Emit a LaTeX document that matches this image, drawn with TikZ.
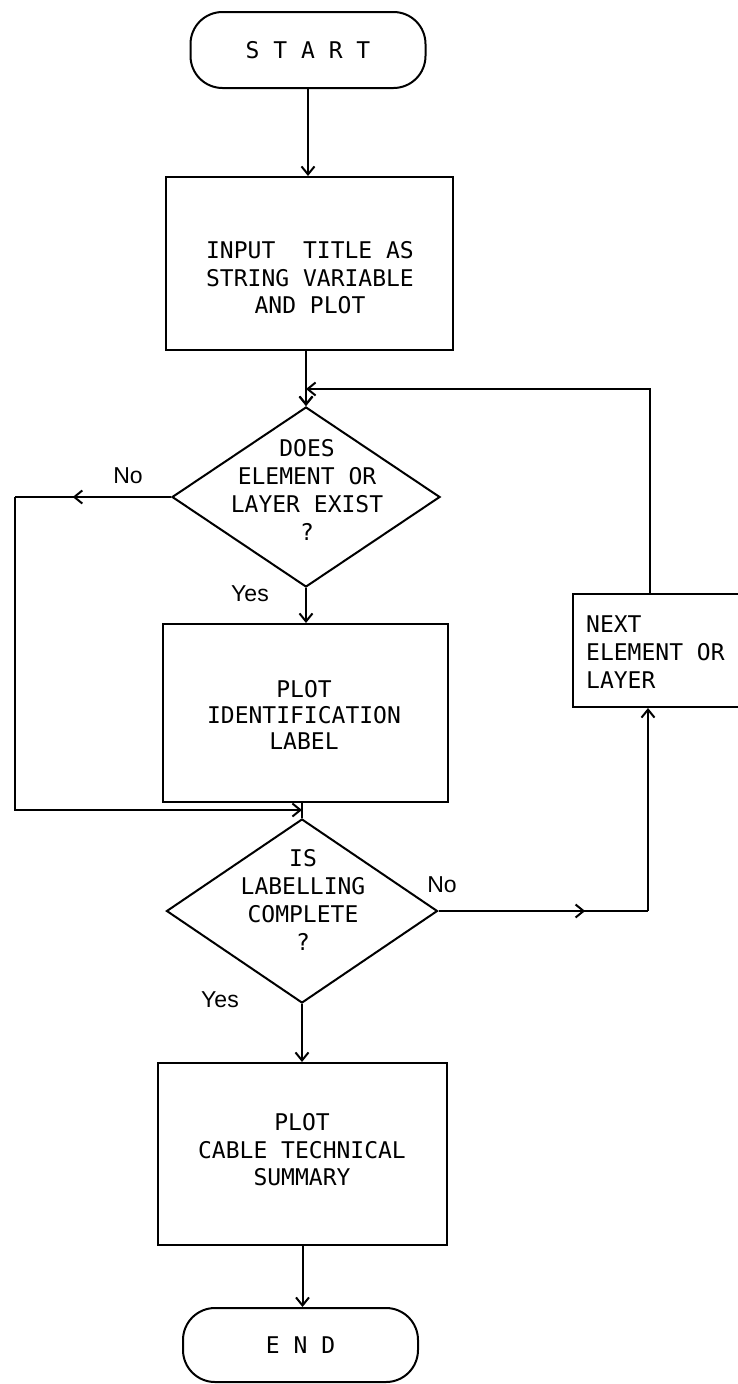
\documentclass[tikz,border=0pt]{standalone}
\usepackage{fontspec}
\setmainfont{Liberation Sans}
\newfontfamily\plotfont{DejaVu Sans Mono}
\usetikzlibrary{shapes.geometric,arrows.meta,decorations.markings}

\begin{document}
\begin{tikzpicture}[x=1pt,y=-1pt,
  every node/.style={inner sep=0pt},
  line/.style={line width=2pt},
  arr/.style={line, -{Straight Barb[length=8pt,width=13pt]}},
  midarr/.style={line, postaction={decorate}, decoration={markings, mark=at position #1 with {\arrow{Straight Barb[length=8pt,width=13pt]}}}},
  mono/.style={font=\plotfont\fontsize{23}{27.5}\selectfont},
  monoq/.style={font=\plotfont\fontsize{23}{28}\selectfont},
  term/.style={draw, line width=2pt, rounded corners=32pt, minimum width=235pt, minimum height=76pt},
  proc/.style={draw, line width=2pt, rectangle},
  dec/.style={draw, line width=2pt, diamond},
  lab/.style={font=\fontsize{23}{26}\selectfont}
]
\useasboundingbox (0,0) rectangle (737,1384);

% shapes
\node[term, mono] (start) at (308,50) {S T A R T};
\node[proc, minimum width=287pt, minimum height=173pt] (box1) at (309.5,263.5) {};
\node[mono, align=center] (t1) at (310,278) {INPUT\ \ TITLE AS\\STRING VARIABLE\\AND PLOT};

\node[dec, minimum width=268pt, minimum height=180pt] (d1) at (306,497) {};
\node[monoq, align=center] (t2) at (307,490) {DOES\\ELEMENT OR\\LAYER EXIST\\?};

\node[proc, minimum width=285pt, minimum height=178pt] (box2) at (305.5,713) {};
\node[font=\plotfont\fontsize{23}{26}\selectfont, align=center] (t3) at (304,715) {PLOT\\IDENTIFICATION\\LABEL};

\node[dec, minimum width=271pt, minimum height=184pt] (d2) at (302,911) {};
\node[monoq, align=center] (t4) at (303,900) {IS\\LABELLING\\COMPLETE\\?};

\node[proc, minimum width=289pt, minimum height=182pt] (box3) at (302.5,1154) {};
\node[mono, align=center] (t5) at (302,1150) {PLOT\\CABLE TECHNICAL\\SUMMARY};

\node[term, mono, minimum height=74pt] (end) at (300.5,1345) {E N D};

\node[proc, minimum width=167pt, minimum height=113pt] (next) at (656.5,650.5) {};
\node[monoq, align=left, anchor=west] (t6) at (586,652) {NEXT\\ELEMENT OR\\LAYER};

% labels
\node[lab] (no1) at (128,476) {No};
\node[lab] (yes1) at (250,594) {Yes};
\node[lab] (no2) at (442,885) {No};
\node[lab] (yes2) at (220,1000) {Yes};

% helper coordinates
\coordinate (lvl) at (0,389);
\coordinate (jn) at (d1.north |- lvl);
\coordinate (nxtop) at ([xshift=-6.5pt]next.north);
\coordinate (nxbot) at ([xshift=-8.5pt]next.south);
\coordinate (lx) at (15,0);
\coordinate (ly) at (0,810);
\coordinate (c1) at (lx |- d1.west);
\coordinate (c2) at (lx |- ly);
\coordinate (m2) at (d2.north |- ly);
\coordinate (c3) at (nxbot |- d2.east);

% connectors
\draw[arr] (start.south) -- (start.south |- box1.north);
\draw[arr] (d1.north |- box1.south) -- (d1.north);
\draw[arr] (nxtop) |- (jn);
\draw[arr] (jn) -- (d1.north);
\draw[midarr=0.63] (d1.west) -- (c1);
\draw[arr] (c1) -- (c2) -- (m2);
\draw[arr] (d1.south) -- (d1.south |- box2.north);
\draw[line] (d2.north |- box2.south) -- (d2.north);
\draw[midarr=0.70] (d2.east) -- (c3);
\draw[arr] (c3) -- (nxbot);
\draw[arr] (d2.south) -- (d2.south |- box3.north);
\draw[arr] (box3.south) -- (box3.south |- end.north);
\end{tikzpicture}
\end{document}
